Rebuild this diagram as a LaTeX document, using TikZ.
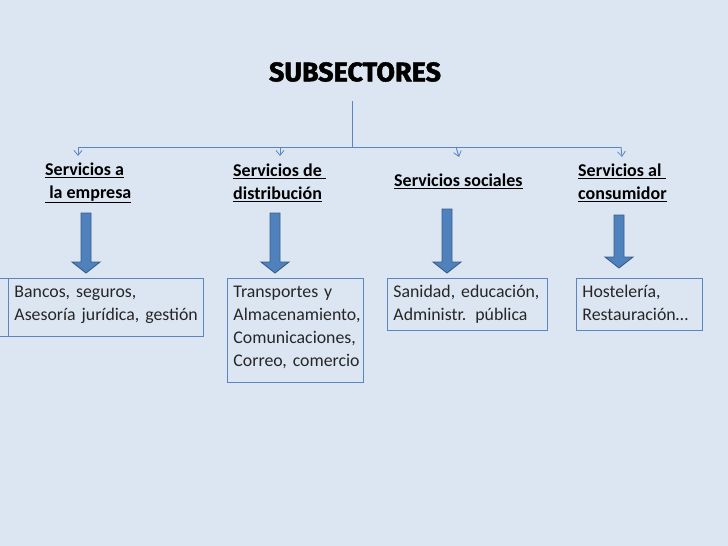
\documentclass[tikz,border=0pt]{standalone}
\usepackage{fontspec}
\setmainfont{Carlito}
\newfontfamily\titlefont{Fira Sans}[BoldFeatures={FakeBold=1.6}]
\usetikzlibrary{arrows.meta}
\definecolor{bgc}{HTML}{DCE6F2}
\definecolor{linec}{HTML}{5A85BF}
\definecolor{arrfill}{HTML}{4F81BD}
\definecolor{arrdraw}{HTML}{385D8A}
\definecolor{txt}{HTML}{262626}
\newcommand\topstrut{\rule{0pt}{19.5pt}}
\newcommand\botstrut[1]{\rule[-#1]{0pt}{0pt}}
\tikzset{
  treeline/.style={draw=linec, line width=0.9pt},
  branch/.style={treeline, -{Straight Barb[length=5pt,width=8pt,line width=0.8pt]}},
  header/.style={font=\fontsize{18}{22}\selectfont\bfseries, text=black, align=left, inner sep=0pt},
  box/.style={draw=linec, line width=0.9pt, fill=bgc, anchor=north west, align=left,
    font=\fontsize{17.8}{23}\selectfont, text=txt,
    inner xsep=6pt, inner ysep=0pt},
  blockarrow/.style={fill=arrfill, draw=arrdraw, line width=0.9pt, line join=miter},
}
\newcommand\myblockarrow[4]{% name, x, ytop, ytip
  \path (#2,#3) coordinate (#1top) (#2,#4) coordinate (#1tip);
  \draw[blockarrow] ([xshift=-5pt]#1top) -- ([xshift=5pt]#1top) -- ([xshift=5pt,yshift=11pt]#1tip)
    -- ([xshift=14pt,yshift=11pt]#1tip) -- (#1tip) -- ([xshift=-14pt,yshift=11pt]#1tip)
    -- ([xshift=-5pt,yshift=11pt]#1tip) -- cycle;}
\begin{document}
\begin{tikzpicture}[x=1pt,y=-1pt]
\fill[bgc] (0,0) rectangle (728,546);
\useasboundingbox (0,0) rectangle (728,546);

% title
\node[font=\titlefont\fontsize{27}{32}\selectfont\bfseries, text=black] (title) at (355,72) {SUBSECTORES};

% tree
\coordinate (stem) at (352,101);
\coordinate (hub) at (352,147);
\coordinate (b1) at (78,147);
\coordinate (b2) at (280,147);
\coordinate (b3) at (456,147);
\coordinate (b4) at (621,147);
\coordinate (t1) at (78,156);
\coordinate (t2) at (280,156);
\coordinate (t3) at (459,157);
\coordinate (t4) at (622,157);
\draw[treeline] (stem) -- (hub);
\draw[treeline] (b1) -- (b4);
\draw[branch] (b1) -- (t1);
\draw[branch] (b2) -- (t2);
\draw[branch] (b3) -- (t3);
\draw[branch] (b4) -- (t4);

% headers
\node[header, anchor=west] (h1) at (45,183) {\underline{Servicios a}\\[1pt]\underline{\ la empresa}};
\node[header, anchor=west] (h2) at (233,183) {\underline{Servicios de\ }\\[1pt]\underline{distribución}};
\node[header, anchor=west] (h3) at (394,181) {\underline{Servicios sociales}};
\node[header, anchor=west] (h4) at (578,183) {\underline{Servicios al\ }\\[1pt]\underline{consumidor}};

% block arrows
\myblockarrow{a1}{86}{213}{273}
\myblockarrow{a2}{275}{213}{273}
\myblockarrow{a3}{447}{209}{273}
\myblockarrow{a4}{619}{215}{268}

% boxes
\node[box, text width=183pt] (box1) at (8,278)
  {\mbox{\topstrut Bancos, seguros,}\\\mbox{Asesoría jurídica, gestión\botstrut{15.5pt}}};
\draw[treeline] (box1.north west) -| ([xshift=-14pt]box1.south west) -- (box1.south west);
\node[box, text width=124pt] (box2) at (227,278)
  {\mbox{\topstrut Transportes y}\\\mbox{Almacenamiento,}\\\mbox{Comunicaciones,}\\\mbox{Correo, comercio\botstrut{15.5pt}}};
\node[box, text width=148pt] (box3) at (387,278)
  {\mbox{\topstrut Sanidad, educación,}\\\mbox{Administr. pública\botstrut{9.5pt}}};
\node[box, text width=114pt] (box4) at (576,278)
  {\mbox{\topstrut Hostelería,}\\\mbox{Restauración…\botstrut{9.5pt}}};
\end{tikzpicture}
\end{document}
